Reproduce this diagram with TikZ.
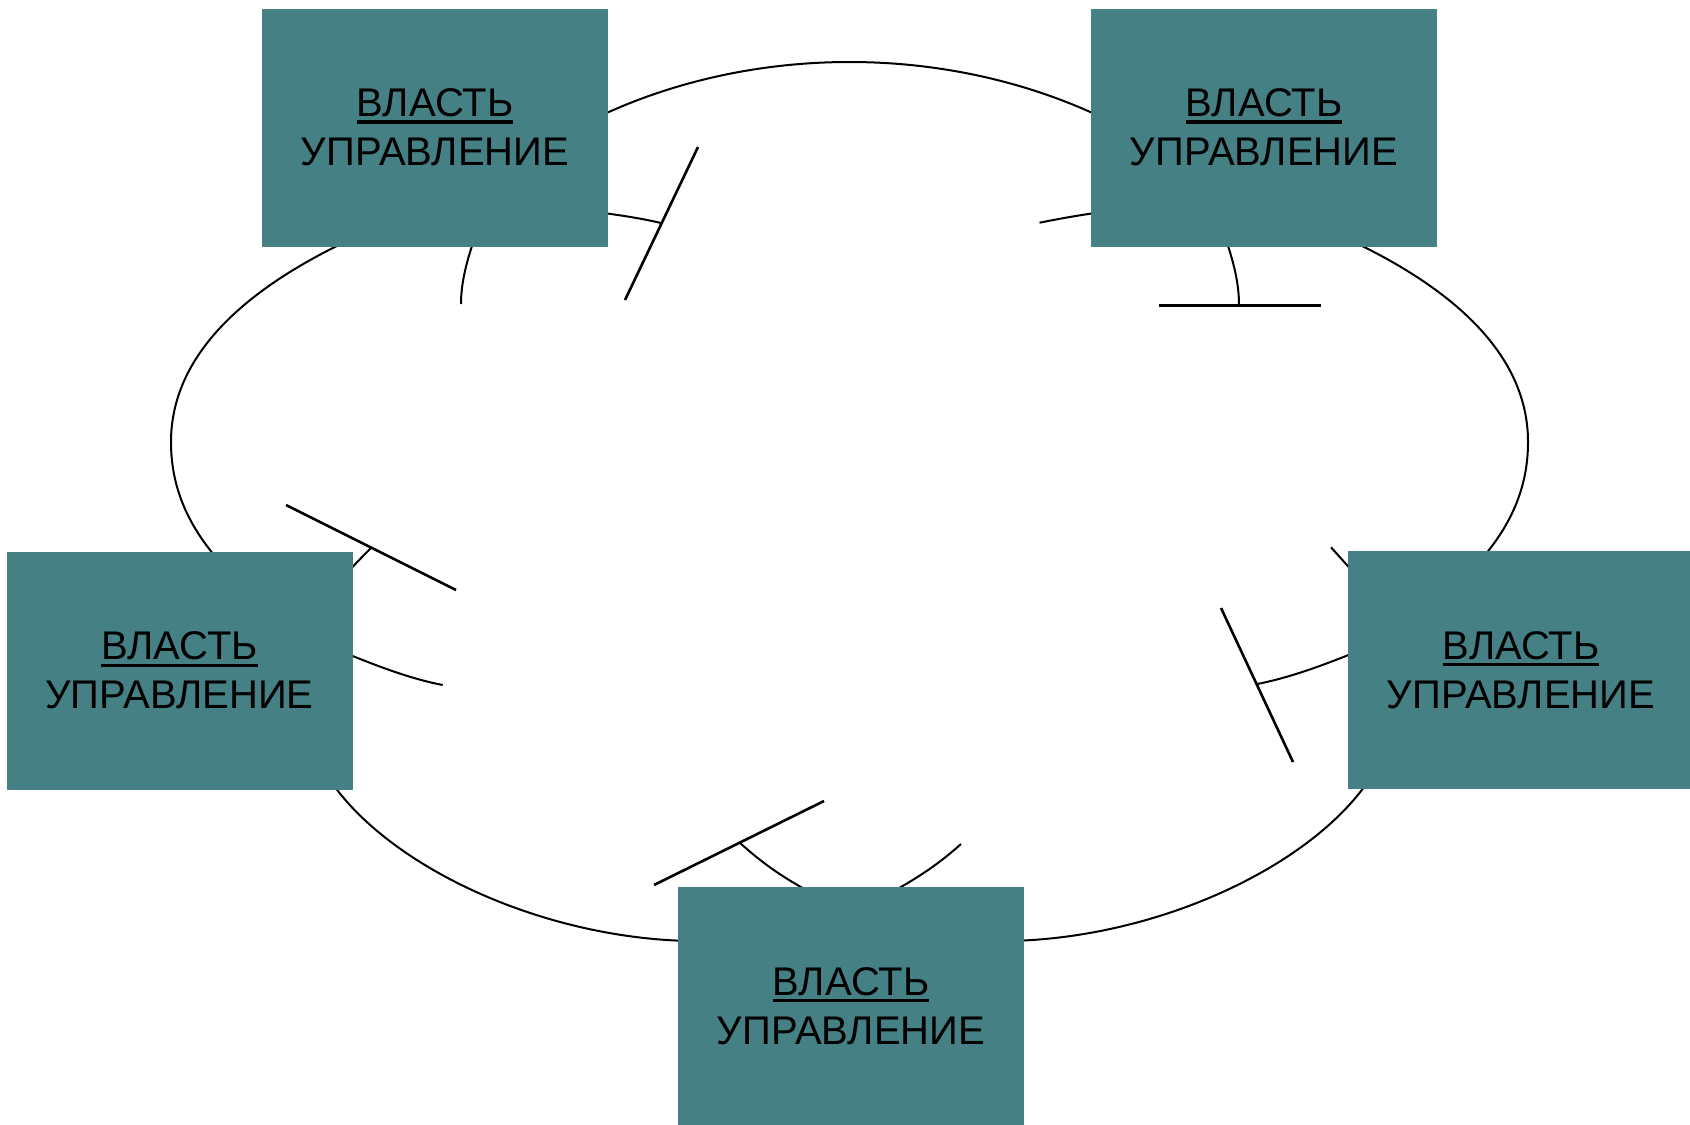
\documentclass[tikz,border=0pt]{standalone}
\usepackage{fontspec}
\setmainfont{Liberation Sans}
\usetikzlibrary{calc}
\pgfdeclarelayer{bg}
\pgfsetlayers{bg,main}
\definecolor{boxteal}{RGB}{68,128,132}
\newsavebox\ulwordbox
\newcommand\ulword[1]{\sbox\ulwordbox{#1}\rlap{\rule[-3.6pt]{\wd\ulwordbox}{1.8pt}}\usebox\ulwordbox}
\begin{document}
\begin{tikzpicture}[x=0.5pt,y=-0.5pt,
  panel/.style={fill=boxteal, minimum width=173pt, minimum height=119pt,
    inner sep=0pt, outer sep=0pt, align=center,
    font=\fontsize{20pt}{24.5pt}\selectfont},
  ring/.style={line width=1pt, black},
  bar/.style={line width=1.3pt, black}]
\useasboundingbox (0,0) rectangle (1690,1124);

% boxes
\node[panel] (tl) at (435,127.6) {\ulword{ВЛАСТЬ}\\УПРАВЛЕНИЕ};
\node[panel] (tr) at (1264,127.6) {\ulword{ВЛАСТЬ}\\УПРАВЛЕНИЕ};
\node[panel] (lf) at (179.5,670.7) {\ulword{ВЛАСТЬ}\\УПРАВЛЕНИЕ};
\node[panel] (rt) at (1521,670) {\ulword{ВЛАСТЬ}\\УПРАВЛЕНИЕ};
\node[panel] (bt) at (851,1006) {\ulword{ВЛАСТЬ}\\УПРАВЛЕНИЕ};

\begin{pgfonlayer}{bg}
% outer ring pieces
\coordinate (o1) at (600,116);
\coordinate (o2) at (1099,116);
\coordinate (o3) at (345,242);
\coordinate (o4) at (171,442);
\coordinate (o5) at (220,562);
\coordinate (o6) at (330,780);
\coordinate (o7) at (690,941);
\coordinate (o8) at (1009,941);
\coordinate (o9) at (1369,780);
\coordinate (o10) at (1479,562);
\coordinate (o11) at (1528,442);
\coordinate (o12) at (1354,242);
\draw[ring] (o1) .. controls (754,44) and (945,44) .. (o2);
\draw[ring] (o3) .. controls (245,290) and (171,355) .. (o4)
  .. controls (171,490) and (190,528) .. (o5);
\draw[ring] (o6) .. controls (388,866) and (540,938) .. (o7);
\draw[ring] (o8) .. controls (1159,938) and (1311,866) .. (o9);
\draw[ring] (o10) .. controls (1509,528) and (1528,490) .. (o11)
  .. controls (1528,355) and (1454,290) .. (o12);

% inner pieces, top-left
\coordinate (a1s) at (474,240);
\coordinate (a1e) at (461,304);
\draw[ring] (a1s) .. controls (465,266) and (461,286) .. (a1e);
\coordinate (a2s) at (600,212.5);
\coordinate (j1) at (661,223);
\draw[ring] (a2s) .. controls (626,216) and (644,219) .. (j1);
\coordinate (t1a) at (698,147);
\coordinate (t1b) at (625,300);
\draw[bar] (t1a) -- (t1b);

% top-right
\coordinate (a3s) at (1099,212.5);
\coordinate (a3e) at (1039.5,222.7);
\draw[ring] (a3s) .. controls (1073,216) and (1056,219.5) .. (a3e);
\coordinate (a4s) at (1226,240);
\coordinate (j2) at (1239,305.3);
\draw[ring] (a4s) .. controls (1235,266) and (1239,286) .. (j2);
\coordinate (t2a) at (1159,305.3);
\coordinate (t2b) at (1321,305.3);
\draw[bar] (t2a) -- (t2b);

% left
\coordinate (a5s) at (345,575);
\coordinate (j3) at (371,548);
\draw[ring] (a5s) .. controls (358,561) and (365,554) .. (j3);
\coordinate (t3a) at (286,505);
\coordinate (t3b) at (456,590);
\draw[bar] (t3a) -- (t3b);
\coordinate (a6s) at (344,652.5);
\coordinate (a6e) at (442.7,685);
\draw[ring] (a6s) .. controls (382,668) and (412,679) .. (a6e);

% right
\coordinate (a7s) at (1355,574);
\coordinate (a7e) at (1331,547.3);
\draw[ring] (a7s) -- (a7e);
\coordinate (a8s) at (1356,652);
\coordinate (j4) at (1257.3,684);
\draw[ring] (a8s) .. controls (1318,667.3) and (1287.5,678) .. (j4);
\coordinate (t4a) at (1221,608);
\coordinate (t4b) at (1293,762);
\draw[bar] (t4a) -- (t4b);

% bottom
\coordinate (j5) at (739.5,842.5);
\coordinate (a9e) at (810,892);
\draw[ring] (j5) .. controls (760,861) and (780,876) .. (a9e);
\coordinate (t5a) at (654,885);
\coordinate (t5b) at (824,801);
\draw[bar] (t5a) -- (t5b);
\coordinate (a10s) at (892,892);
\coordinate (a10e) at (961,844);
\draw[ring] (a10s) .. controls (921,876) and (941,862) .. (a10e);
\end{pgfonlayer}
\end{tikzpicture}
\end{document}
